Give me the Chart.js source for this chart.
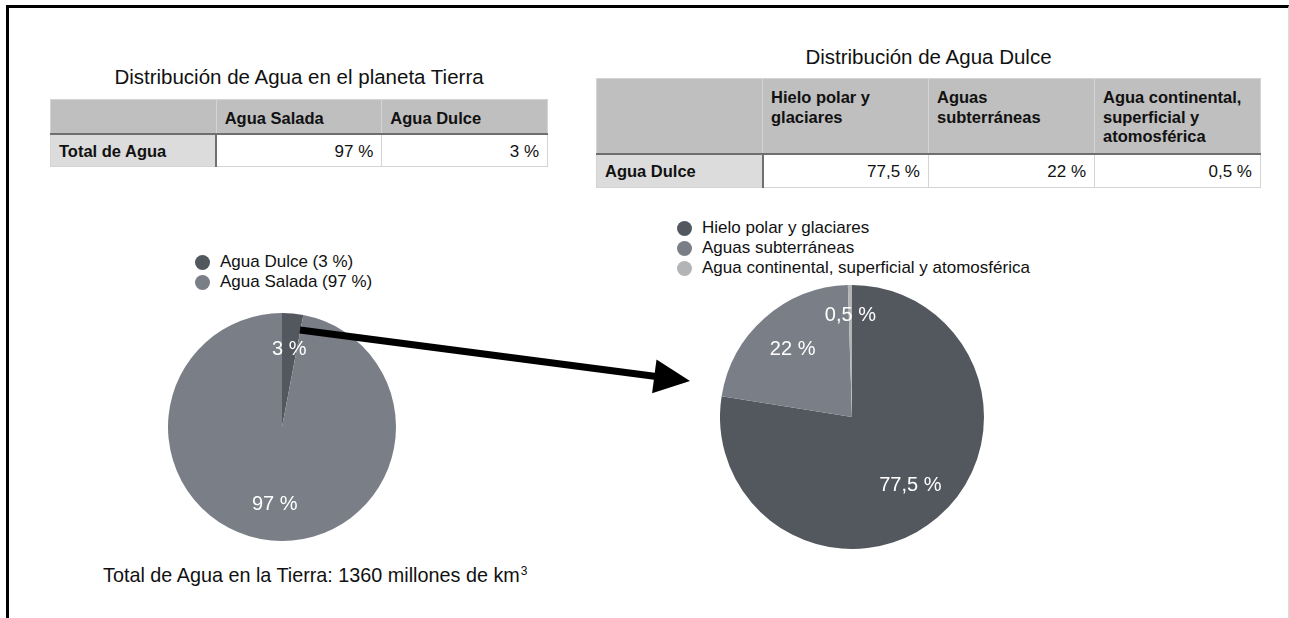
<!DOCTYPE html>
<html lang="es">
<head>
<meta charset="utf-8">
<title>Distribución de Agua</title>
<script src="https://cdn.jsdelivr.net/npm/chart.js@4.4.1/dist/chart.umd.min.js"></script>
<style>
  html, body { margin: 0; padding: 0; background: #fff; }
  body {
    position: relative; width: 1289px; height: 618px; overflow: hidden;
    font-family: "Liberation Sans", Arial, Helvetica, sans-serif; color: #111;
  }
  .frame {
    position: absolute; left: 6px; top: 5px; width: 1283px; height: 700px;
    box-sizing: border-box; border-left: 3px solid #000; border-top: 3px solid #000;
    border-right: 1px solid #dcdcdc;
  }
  .title { position: absolute; font-size: 20.5px; line-height: 24px; text-align: center; white-space: nowrap; }
  table.tbl {
    position: absolute; border-collapse: collapse; table-layout: fixed;
    font-size: 17px; line-height: 19.5px;
  }
  .tbl th {
    background: #bfbfbf; font-weight: bold; font-size: 16.5px; text-align: left;
    vertical-align: top; padding: 9px 8px 4px 8px;
    border: 1px solid #d4d4d4; border-bottom: 2px solid #6f6f6f;
  }
  .tbl td {
    background: #fff; text-align: right; vertical-align: middle; padding: 2px 8px 0 8px;
    border: 1px solid #d4d4d4;
  }
  .tbl td.rowhead { background: #dcdcdc; font-weight: bold; font-size: 16.5px; text-align: left; border-right: 2px solid #6f6f6f; }
  .chartbox { position: absolute; }
  .legend { position: absolute; font-size: 17px; line-height: 20px; white-space: nowrap; }
  .legend .item { display: flex; align-items: center; }
  .legend .dot { width: 15px; height: 15px; border-radius: 50%; margin-right: 10px; flex: none; }
  .note { position: absolute; left: 103px; top: 563px; font-size: 19.8px; line-height: 24px; white-space: nowrap; }
  .note sup { font-size: 12px; vertical-align: 7px; line-height: 0; margin-left: 1px; }
  #arrow { position: absolute; left: 0; top: 0; pointer-events: none; }
</style>
</head>
<body>
<div class="frame"></div>

<div class="title" style="left:50px;top:65px;width:498px">Distribución de Agua en el planeta Tierra</div>
<table class="tbl" id="tblTotal" style="left:50px;top:99px;width:498px"></table>

<div class="title" style="left:596px;top:45px;width:665px">Distribución de Agua Dulce</div>
<table class="tbl" id="tblDulce" style="left:596px;top:78px;width:665px"></table>

<div class="legend" id="legendTotal" style="left:195px;top:252px"></div>
<div class="chartbox" style="left:168px;top:313px;width:228px;height:228px">
  <canvas id="pieTotal" width="228" height="228"></canvas>
</div>

<div class="legend" id="legendDulce" style="left:677px;top:218px"></div>
<div class="chartbox" style="left:720px;top:285px;width:264px;height:264px">
  <canvas id="pieDulce" width="264" height="264"></canvas>
</div>

<div class="note" id="note"></div>
<canvas id="arrow" width="1289" height="618"></canvas>

<script>
// data
const totalCategories = ["Agua Dulce", "Agua Salada"];
const totalValues = [3, 97];
const dulceCategories = ["Hielo polar y glaciares", "Aguas subterráneas", "Agua continental, superficial y atomosférica"];
const dulceValues = [77.5, 22, 0.5];
const totalRowLabel = "Total de Agua";
const dulceRowLabel = "Agua Dulce";
const totalKm3 = 1360;

const DARK = "#53575e";
const MID = "#7a7f87";
const LIGHT = "#b3b4b6";

const fmt = v => String(v).replace(".", ",") + " %";

// tables
function fillTable(id, rowLabel, cats, vals) {
  const tbl = document.getElementById(id);
  let cols = "<colgroup>" + "<col>".repeat(cats.length + 1) + "</colgroup>";
  let head = "<tr><th></th>" + cats.map(c => "<th>" + c + "</th>").join("") + "</tr>";
  let body = "<tr><td class=\"rowhead\">" + rowLabel + "</td>" + vals.map(v => "<td>" + fmt(v) + "</td>").join("") + "</tr>";
  tbl.innerHTML = cols + head + body;
}
// table shows salada first, pie shows dulce first
fillTable("tblTotal", totalRowLabel, totalCategories.slice().reverse(), totalValues.slice().reverse());
fillTable("tblDulce", dulceRowLabel, dulceCategories, dulceValues);
document.querySelector("#tblTotal tr:first-child").style.height = "34px";
document.querySelector("#tblTotal tr:last-child").style.height = "33px";
document.querySelector("#tblDulce tr:first-child").style.height = "75px";
document.querySelector("#tblDulce tr:last-child").style.height = "34px";

document.getElementById("note").innerHTML =
  "Total de Agua en la Tierra: " + totalKm3 + " millones de km<sup>3</sup>";

// white percentage labels inside the slices
const sliceLabels = {
  id: "sliceLabels",
  afterDatasetsDraw(chart) {
    const ctx = chart.ctx;
    const vals = chart.data.datasets[0].data;
    const total = vals.reduce((a, b) => a + b, 0);
    ctx.save();
    ctx.font = '20px "Liberation Sans", Arial, sans-serif';
    ctx.fillStyle = "#fff";
    ctx.textAlign = "center";
    ctx.textBaseline = "middle";
    chart.getDatasetMeta(0).data.forEach((arc, i) => {
      const p = arc.getProps(["x", "y", "startAngle", "endAngle", "outerRadius"], true);
      const mid = (p.startAngle + p.endAngle) / 2;
      const k = vals[i] / total < 0.01 ? 0.77 : 0.68;
      ctx.fillText(fmt(vals[i]), p.x + Math.cos(mid) * p.outerRadius * k, p.y + Math.sin(mid) * p.outerRadius * k);
    });
    ctx.restore();
  }
};

function makePie(id, labels, values, colors) {
  return new Chart(document.getElementById(id), {
    type: "pie",
    data: {
      labels,
      datasets: [{ data: values, backgroundColor: colors, borderWidth: 0 }]
    },
    options: {
      responsive: false,
      animation: false,
      layout: { padding: 0 },
      plugins: { legend: { display: false }, tooltip: { enabled: false } }
    },
    plugins: [sliceLabels]
  });
}

function makeLegend(id, chart, withValue) {
  const el = document.getElementById(id);
  const vals = chart.data.datasets[0].data;
  const items = Chart.overrides.pie.plugins.legend.labels.generateLabels(chart);
  el.innerHTML = items.map((it, i) =>
    '<div class="item"><span class="dot" style="background:' + it.fillStyle + '"></span>' +
    it.text + (withValue ? " (" + fmt(vals[i]) + ")" : "") + "</div>"
  ).join("");
}

const pieTotal = makePie("pieTotal", totalCategories, totalValues, [DARK, MID]);
const pieDulce = makePie("pieDulce", dulceCategories, dulceValues, [DARK, MID, LIGHT]);
makeLegend("legendTotal", pieTotal, true);
makeLegend("legendDulce", pieDulce, false);

// arrow from the 3 % slice to the fresh water pie
(function drawArrow() {
  const ctx = document.getElementById("arrow").getContext("2d");
  const x0 = 300, y0 = 330, x1 = 690, y1 = 381;
  const len = Math.hypot(x1 - x0, y1 - y0);
  const dx = (x1 - x0) / len, dy = (y1 - y0) / len;
  const head = 36, half = 17;
  const bx = x1 - dx * head, by = y1 - dy * head;
  ctx.fillStyle = "#000";
  ctx.strokeStyle = "#000";
  ctx.lineWidth = 7;
  ctx.beginPath();
  ctx.moveTo(x0, y0);
  ctx.lineTo(bx + dx * 2, by + dy * 2);
  ctx.stroke();
  ctx.beginPath();
  ctx.moveTo(x1, y1);
  ctx.lineTo(bx - dy * half, by + dx * half);
  ctx.lineTo(bx + dy * half, by - dx * half);
  ctx.closePath();
  ctx.fill();
})();
</script>
</body>
</html>
